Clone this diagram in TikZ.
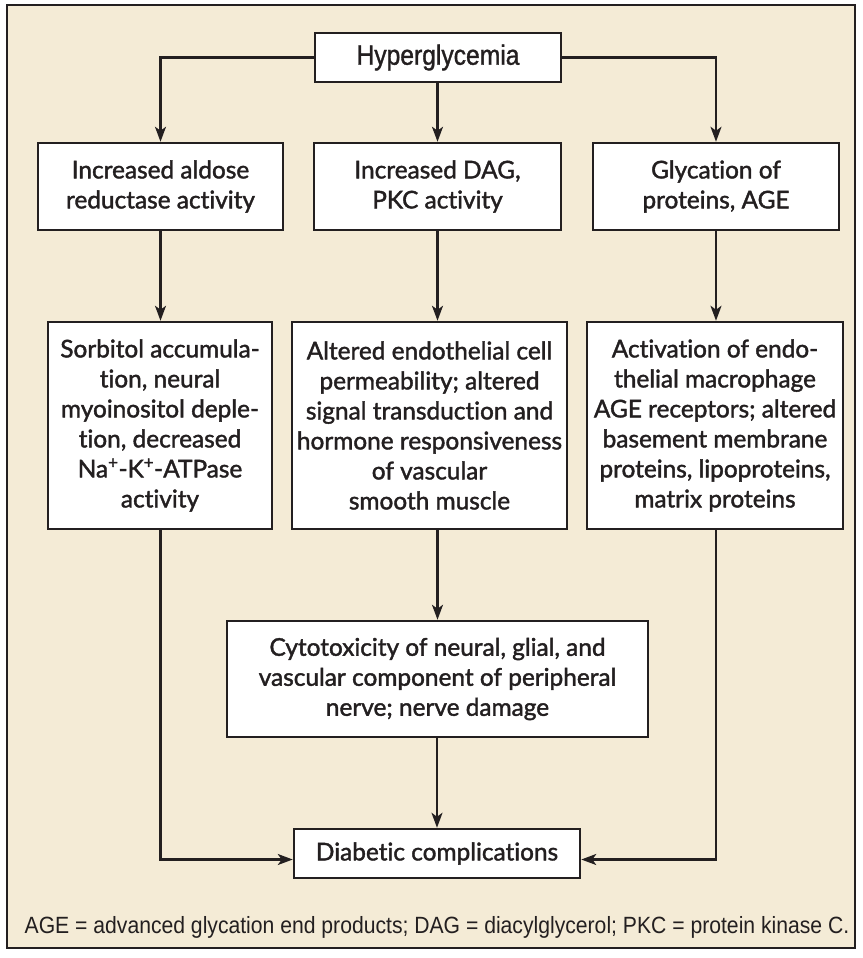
\documentclass[tikz,border=0pt]{standalone}
\usepackage{fontspec}
\setmainfont{Lato}[Ligatures=NoCommon, UprightFeatures={FakeBold=1.6}]
\newfontfamily\condfont[FakeStretch=0.9]{Liberation Sans}
\newfontfamily\condmedfont[FakeStretch=0.88, FakeBold=1.2]{Liberation Sans}
\usetikzlibrary{arrows.meta}
\definecolor{bgcream}{HTML}{F4EBD6}
\definecolor{ink}{HTML}{231F20}
\begin{document}
\begin{tikzpicture}[x=1pt,y=-1pt,
  box/.style={draw=ink, line width=2.5pt, fill=white, inner sep=0pt, align=center,
              font=\fontsize{24.4}{30}\selectfont, text=ink},
  conn/.style={draw=ink, line width=2.3pt},
  arr/.style={conn, -{Stealth[length=15pt,width=11pt,inset=4pt]}}]
\useasboundingbox (0,0) rectangle (862,958);
\draw[ink, line width=1.5pt, fill=bgcream] (7,5) rectangle (855,948);

\node[box, minimum width=246pt, minimum height=49pt, font=\condmedfont\fontsize{28}{30}\selectfont] (hyp) at (438,57.5) {Hyperglycemia};

\node[box, minimum width=245pt, minimum height=87pt] (ar) at (160.5,186.5) {Increased aldose\\reductase activity};
\node[box, minimum width=247pt, minimum height=87pt] (dag) at (437.5,186.5) {Increased DAG,\\PKC activity};
\node[box, minimum width=246pt, minimum height=87pt] (gly) at (716,186.5) {Glycation of\\proteins, AGE};

\node[box, minimum width=224pt, minimum height=207pt] (sorb) at (160,425.5) {Sorbitol accumula-\\tion, neural\\myoinositol deple-\\tion, decreased\\Na\textsuperscript{+}-K\textsuperscript{+}-ATPase\\activity};
\node[box, minimum width=275pt, minimum height=207pt] (endo) at (429.5,425.5) {Altered endothelial cell\\permeability; altered\\signal transduction and\\hormone responsiveness\\of vascular\\smooth muscle};
\node[box, minimum width=256pt, minimum height=207pt] (act) at (715,425.5) {Activation of endo-\\thelial macrophage\\AGE receptors; altered\\basement membrane\\proteins, lipoproteins,\\matrix proteins};

\node[box, minimum width=421pt, minimum height=116pt] (cyto) at (437.5,679) {Cytotoxicity of neural, glial, and\\vascular component of peripheral\\nerve; nerve damage};

\node[box, minimum width=286pt, minimum height=49pt] (diab) at (437,853.5) {Diabetic complications};

\node[font=\condfont\fontsize{23.5}{26}\selectfont, text=ink, inner sep=0pt] (note) at (437,927) {AGE = advanced glycation end products; DAG = diacylglycerol; PKC = protein kinase C.};

\draw[arr] (hyp.west) -| (ar.north);
\draw[arr] (hyp.south -| dag.north) -- (dag.north);
\draw[arr] (hyp.east) -| (gly.north);

\draw[arr] (ar.south) -- (ar.south |- sorb.north);
\draw[arr] (dag.south) -- (dag.south |- endo.north);
\draw[arr] (gly.south) -- (gly.south |- act.north);

\draw[arr] (dag.south |- endo.south) -- (dag.south |- cyto.north);
\draw[arr] (cyto.south -| diab.north) -- (diab.north);

\draw[arr] (ar.south |- sorb.south) |- ([yshift=-6pt]diab.west);
\draw[arr] (gly.south |- act.south) |- ([yshift=-6pt]diab.east);
\end{tikzpicture}
\end{document}
